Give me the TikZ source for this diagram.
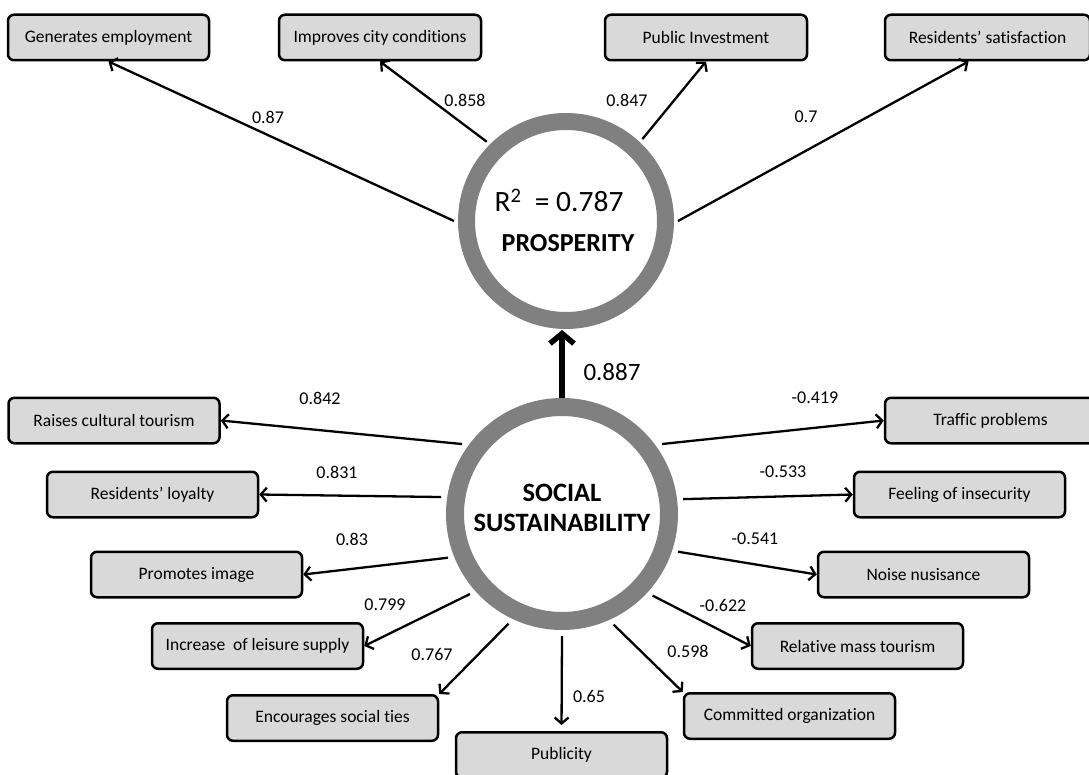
\documentclass[tikz,border=0pt]{standalone}
\usepackage{fontspec}
\setmainfont{Carlito}[Ligatures=NoCommon]
\usetikzlibrary{arrows.meta}

\begin{document}
\begin{tikzpicture}[x=1pt,y=-1pt,
    box/.style={draw, line width=2.5pt, rounded corners=6pt, fill=black!15,
      minimum width=211pt, minimum height=45.5pt, inner sep=0pt,
      font=\fontsize{17.5}{21}\selectfont},
    ring/.style={circle, draw=gray, fill=white, inner sep=0pt},
    conn/.style={line width=2.3pt, -{Straight Barb[length=6pt,width=14pt]}},
    val/.style={font=\fontsize{18}{21}\selectfont}]
    \useasboundingbox (0,0) rectangle (1089,775);

    % Define the two constructs
    \node [ring, line width=17pt, minimum size=199pt, outer sep=12.5pt] (prosp) at (566,221) {};
    \node [ring, line width=18pt, minimum size=214pt, outer sep=15pt] (social) at (562,514) {};
    \node (rsq) at (559,200) {\fontsize{29.5}{32}\selectfont R\textsuperscript{2}\ \ = 0.787};
    \node (prosptxt) at (568,243) {\fontsize{26}{30}\selectfont\bfseries PROSPERITY};
    \node [align=center, font=\fontsize{26.5}{30}\selectfont\bfseries] (socialtxt) at (562,508)
      {SOCIAL\\SUSTAINABILITY};

    % Indicators of prosperity
    \node [box, minimum width=201pt] (genemp) at (108.5,37.5) {Generates employment};
    \node [box, minimum width=202pt] (impcity) at (380,37.5) {Improves city conditions};
    \node [box, minimum width=202pt] (pubinv) at (706,37.5) {Public Investment};
    \node [box, minimum width=205pt] (ressat) at (987.5,37.5) {Residents’ satisfaction};

    % Indicators of social sustainability
    \node [box] (raises) at (114,420.5) {Raises cultural tourism};
    \node [box] (loyalty) at (152.5,494.5) {Residents’ loyalty};
    \node [box] (image) at (196.5,574.5) {Promotes image};
    \node [box] (leisure) at (257.5,646) {Increase\ \ of leisure supply};
    \node [box] (ties) at (332.5,718) {Encourages social ties};
    \node [box] (publicity) at (561.5,755) {Publicity};
    \node [box] (committed) at (789.5,716) {Committed organization};
    \node [box] (mass) at (857.5,646) {Relative mass tourism};
    \node [box] (noise) at (923.5,574.5) {Noise nusisance};
    \node [box] (insecurity) at (959.5,494.5) {Feeling of insecurity};
    \node [box] (traffic) at (990.5,420.5) {Traffic problems};

    % Draw the loadings
    \draw [conn] (prosp.180) -- (genemp.south);
    \draw [conn] (prosp.135) -- (impcity.south);
    \draw [conn] (prosp.47) -- (pubinv.south);
    \draw [conn] (prosp.0) -- ([xshift=-19pt]ressat.south);

    \draw [conn] (social.145) -- (raises.east);
    \draw [conn] (social.172) -- (loyalty.east);
    \draw [conn] (social.201) -- (image.east);
    \draw [conn] (social.221) -- (leisure.east);
    \draw [conn] (social.244) -- (ties.north east);
    \draw [conn, shorten >=6pt] (social.270) -- (publicity.north);
    \draw [conn] (social.295) -- (committed.north west);
    \draw [conn] (social.318) -- (mass.west);
    \draw [conn] (social.342) -- (noise.west);
    \draw [conn] (social.7) -- (insecurity.west);
    \draw [conn] (social.35) -- (traffic.west);

    % Path coefficient
    \draw [line width=5.5pt, -{Straight Barb[length=10pt,width=24pt]}, shorten <=-6pt, shorten >=-3pt]
      (social.north) -- (social.north |- prosp.south);
    \node [font=\fontsize{25}{28}\selectfont] (path) at (612,372) {0.887};

    % Label the loadings
    \node [val] (v1) at (268,117) {0.87};
    \node [val] (v2) at (465,100) {0.858};
    \node [val] (v3) at (627,100) {0.847};
    \node [val] (v4) at (806,117) {0.7};
    \node [val] (v5) at (320,398) {0.842};
    \node [val] (v6) at (337,472) {0.831};
    \node [val] (v7) at (352,539) {0.83};
    \node [val] (v8) at (385,605) {0.799};
    \node [val] (v9) at (432,654) {0.767};
    \node [val] (v10) at (589,696) {0.65};
    \node [val] (v11) at (688,651) {0.598};
    \node [val] (v12) at (723,605) {-0.622};
    \node [val] (v13) at (755,539) {-0.541};
    \node [val] (v14) at (783,472) {-0.533};
    \node [val] (v15) at (815,398) {-0.419};
\end{tikzpicture}
\end{document}
